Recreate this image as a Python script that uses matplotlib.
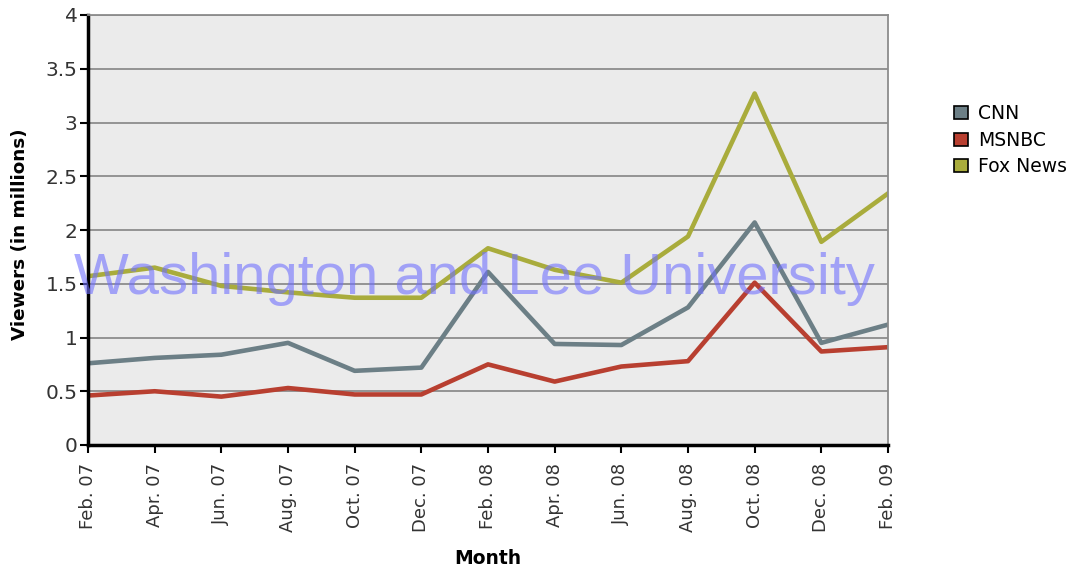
import matplotlib
matplotlib.use("Agg")
import matplotlib.pyplot as plt
from matplotlib.patches import Patch

months = ["Feb. 07", "Apr. 07", "Jun. 07", "Aug. 07", "Oct. 07", "Dec. 07",
          "Feb. 08", "Apr. 08", "Jun. 08", "Aug. 08", "Oct. 08", "Dec. 08", "Feb. 09"]
cnn = [0.76, 0.81, 0.84, 0.95, 0.69, 0.72, 1.61, 0.94, 0.93, 1.28, 2.07, 0.95, 1.12]
msnbc = [0.46, 0.50, 0.45, 0.53, 0.47, 0.47, 0.75, 0.59, 0.73, 0.78, 1.51, 0.87, 0.91]
fox = [1.57, 1.65, 1.48, 1.42, 1.37, 1.37, 1.83, 1.63, 1.51, 1.94, 3.27, 1.89, 2.34]

series = [("CNN", cnn, "#6c7f86"), ("MSNBC", msnbc, "#b83f30"), ("Fox News", fox, "#a9ac3c")]

fig = plt.figure(figsize=(10.76, 5.71), dpi=100)
ax = fig.add_axes([88 / 1076, 1 - 445 / 571, 800 / 1076, 430 / 571])
ax.set_facecolor("#ebebeb")

x = list(range(len(months)))
for name, vals, col in series:
    ax.plot(x, vals, color=col, linewidth=3.3, label=name)

ax.set_xlim(0, len(months) - 1)
ax.set_ylim(0, 4)
ax.set_yticks([0, 0.5, 1, 1.5, 2, 2.5, 3, 3.5, 4])
ax.set_yticklabels(["0", "0.5", "1", "1.5", "2", "2.5", "3", "3.5", "4"], fontsize=14.5, color="#333333")
ax.set_xticks(x)
ax.set_xticklabels(months, rotation=90, fontsize=13, color="#333333")
ax.grid(axis="y", color="#8c8c8c", linewidth=1.3)
ax.set_axisbelow(True)

for s in ["left", "bottom"]:
    ax.spines[s].set_linewidth(2.5)
    ax.spines[s].set_color("black")
for s in ["top", "right"]:
    ax.spines[s].set_linewidth(1.3)
    ax.spines[s].set_color("#8c8c8c")
ax.tick_params(axis="both", length=6, width=1.5, direction="out")
ax.tick_params(axis="x", pad=7)
ax.tick_params(axis="y", pad=1.5)

ax.set_xlabel("Month", fontsize=13.5, fontweight="bold", va="center")
ax.xaxis.set_label_coords(0.5, (445 - 559) / 430)
ax.set_ylabel("Viewers (in millions)", fontsize=13.2, fontweight="bold", va="center")
ax.yaxis.set_label_coords((20 - 88) / 800, 0.49)

handles = [Patch(facecolor=col, edgecolor="black", linewidth=1.2, label=name) for name, vals, col in series]
fig.legend(handles=handles, loc="upper left", bbox_to_anchor=(945 / 1076, 1 - 95 / 571),
           frameon=False, fontsize=13.5, handlelength=0.7, handleheight=0.7,
           handletextpad=0.55, labelspacing=0.4, borderpad=0)

fig.text(474.5 / 1076, 1 - 294 / 571, "Washington and Lee University", fontsize=41.8,
         family="Liberation Sans", color="#7070ff", alpha=0.6, ha="center", va="baseline")

fig.savefig("out.png", dpi=100)
